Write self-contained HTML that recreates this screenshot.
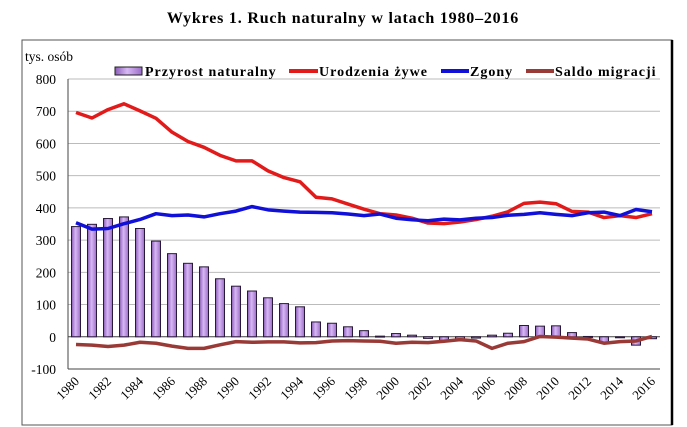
<!DOCTYPE html>
<html><head><meta charset="utf-8"><style>
body{margin:0;background:#fff;width:687px;height:427px;overflow:hidden}
svg{display:block;font-family:"Liberation Serif",serif}
</style></head><body>
<svg id="chart" width="687" height="427">
<defs><linearGradient id="bg" x1="0" x2="1" y1="0" y2="0"><stop offset="0" stop-color="#8a5cb8"/><stop offset="0.45" stop-color="#d8b8f4"/><stop offset="1" stop-color="#9a6cc8"/></linearGradient></defs>
<text x="343" y="23" text-anchor="middle" font-size="16" letter-spacing="0.8" font-weight="bold">Wykres 1. Ruch naturalny w latach 1980–2016</text>
<rect x="22" y="40" width="650" height="385" fill="none" stroke="#555" stroke-width="1"/>
<line x1="672" y1="40" x2="672" y2="425" stroke="#000" stroke-width="2.5"/>
<text x="25" y="61" font-size="13.5">tys. osób</text>
<g id="grid"></g><g id="bars"></g><g id="lines"></g><g id="xlabels"></g>
<g font-size="14" font-weight="bold" letter-spacing="1">
<g><rect x="115" y="67" width="27" height="8" fill="url(#bg)" stroke="#222"/><text x="145" y="76">Przyrost naturalny</text></g>
<g><line x1="289" y1="71" x2="318" y2="71" stroke="#e21a1a" stroke-width="4"/><text x="319" y="76">Urodzenia żywe</text></g>
<g><line x1="441" y1="71" x2="469" y2="71" stroke="#1010d8" stroke-width="4"/><text x="470" y="76">Zgony</text></g>
<g><line x1="526" y1="71" x2="554" y2="71" stroke="#9a3a36" stroke-width="4"/><text x="555" y="76">Saldo migracji</text></g>
</g>
</svg>
<script>
const years=[];for(let y=1980;y<=2016;y++)years.push(y);
const przyrost=[342,349,367,372,336,297,258,228,217,180,157,142,121,103,93,46,42,31,19,2,10,5,-5,-14,-7,-4,5,11,35,33,34,13,1,-18,-1,-26,-6];
const urodzenia=[696,679,705,723,701,678,635,606,588,563,546,546,515,494,481,433,428,412,396,382,378,368,353,351,356,364,374,388,414,418,413,389,387,370,376,370,382];
const zgony=[354,334,336,351,364,382,376,378,372,382,390,404,394,390,387,386,385,381,376,381,368,363,360,365,363,368,370,377,380,385,380,376,385,387,376,395,388];
const saldo=[-24,-26,-30,-26,-17,-20,-29,-36,-36,-25,-15,-17,-16,-16,-19,-18,-13,-12,-13,-14,-20,-17,-18,-14,-9,-13,-36,-20,-15,1,-1,-4,-7,-20,-15,-13,1];
const yTicks=[-100,0,100,200,300,400,500,600,700,800];
const NS="http://www.w3.org/2000/svg";
const L=68,R=660,T=79,B=369,yMin=-100,yMax=800;
const step=(R-L)/years.length;
const xc=i=>L+step*(i+0.5);
const ys=v=>B-(v-yMin)/(yMax-yMin)*(B-T);
function mk(t,a,p){const e=document.createElementNS(NS,t);for(const k in a)e.setAttribute(k,a[k]);p.appendChild(e);return e;}
const grid=document.getElementById('grid');
yTicks.forEach(v=>{
 const ln=mk('line',{x1:L,x2:R,y1:ys(v),y2:ys(v),stroke:v===0||v===-100?'#444':'#bbb','stroke-width':1},grid);
 
 
 const t=mk('text',{x:56,y:ys(v)+5,'text-anchor':'end','font-size':13.5},grid);t.textContent=v;
 
 
});
mk('line',{x1:L,x2:L,y1:T,y2:B,stroke:'#444'},grid);
const bars=document.getElementById('bars');
przyrost.forEach((v,i)=>{
 const y0=ys(0),y1=ys(v);
 const r=mk('rect',{x:xc(i)-4.5,y:Math.min(y0,y1),width:9,height:Math.max(1,Math.abs(y1-y0)),fill:'url(#bg)',stroke:'#2a1a3a','stroke-width':1},bars);
 
 
});
const lines=document.getElementById('lines');
[[saldo,'#9a3a36','line-saldo'],[urodzenia,'#e21a1a','line-urodzenia'],[zgony,'#1010d8','line-zgony']].forEach(([d,c,n])=>{
 const p=mk('polyline',{points:d.map((v,i)=>xc(i)+','+ys(v)).join(' '),fill:'none',stroke:c,'stroke-width':3.5,'stroke-linejoin':'round'},lines);
 
 
});
const xl=document.getElementById('xlabels');
years.forEach((y,i)=>{
 if(i%2)return;
 const x=xc(i)+4,yy=382;
 const t=mk('text',{x:x,y:yy,'text-anchor':'end','font-size':13,transform:`rotate(-45 ${x} ${yy})`},xl);t.textContent=y;
 
 
});
</script>
</body></html>
